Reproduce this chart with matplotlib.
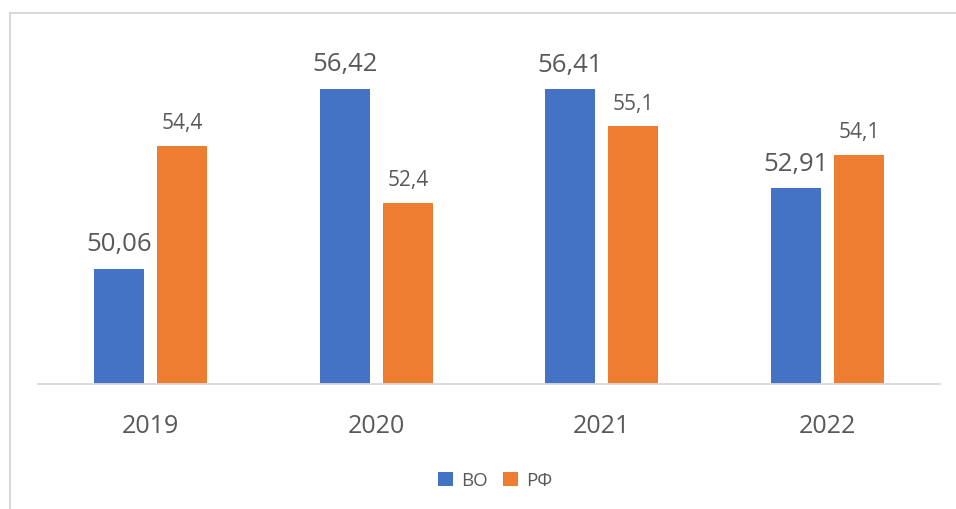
import matplotlib
matplotlib.use("Agg")
import matplotlib.pyplot as plt
import numpy as np
from matplotlib.lines import Line2D

plt.rcParams["font.family"] = ["Open Sans", "DejaVu Sans"]

# ── Data ──
years = ["2019", "2020", "2021", "2022"]
vo = [50.06, 56.42, 56.41, 52.91]
rf = [54.4, 52.4, 55.1, 54.1]
vo_labels = ["50,06", "56,42", "56,41", "52,91"]
rf_labels = ["54,4", "52,4", "55,1", "54,1"]

BLUE = "#4472C4"
ORANGE = "#ED7D31"
TEXT = "#595959"
GRID = "#D9D9D9"

fig = plt.figure(figsize=(9.56, 5.10), dpi=100)
ax = fig.add_axes([38 / 956, 1 - 385 / 510, 902 / 956, 340 / 510])

x = np.arange(len(years))
w = 0.222
off = 0.14
b1 = ax.bar(x - off, vo, w, color=BLUE, label="ВО", zorder=2)
b2 = ax.bar(x + off, rf, w, color=ORANGE, label="РФ", zorder=2)

for rect, lab in zip(b1, vo_labels):
    ax.annotate(lab, (rect.get_x() + rect.get_width() / 2, rect.get_height()),
                xytext=(0, 9), textcoords="offset points", ha="center", va="bottom",
                fontsize=18.5, color=TEXT)
for rect, lab in zip(b2, rf_labels):
    ax.annotate(lab, (rect.get_x() + rect.get_width() / 2, rect.get_height()),
                xytext=(0, 9), textcoords="offset points", ha="center", va="bottom",
                fontsize=15, color=TEXT)

ax.set_ylim(46, 58)
ax.set_xlim(-0.5, 3.5)
ax.set_xticks(x)
ax.set_xticklabels(years, fontsize=18, color=TEXT)
ax.tick_params(axis="x", length=0, pad=21)
ax.set_yticks([])
for s in ["top", "right", "left"]:
    ax.spines[s].set_visible(False)
ax.spines["bottom"].set_color(GRID)
ax.spines["bottom"].set_linewidth(1.3)

fig.legend(handles=[b1, b2], labels=["ВО", "РФ"], loc="center", bbox_to_anchor=(0.518, 0.056),
           ncol=2, frameon=False, fontsize=13.5, labelcolor=TEXT,
           handlelength=0.8, handleheight=0.8, handletextpad=0.45, columnspacing=0.8)

# chart border (top and left visible)
fig.add_artist(Line2D([10 / 956, 10 / 956], [0, 1 - 14 / 510], transform=fig.transFigure,
                      color=GRID, linewidth=1.5))
fig.add_artist(Line2D([10 / 956, 1], [1 - 14 / 510, 1 - 14 / 510], transform=fig.transFigure,
                      color=GRID, linewidth=1.5))

fig.savefig("out.png", dpi=100)
